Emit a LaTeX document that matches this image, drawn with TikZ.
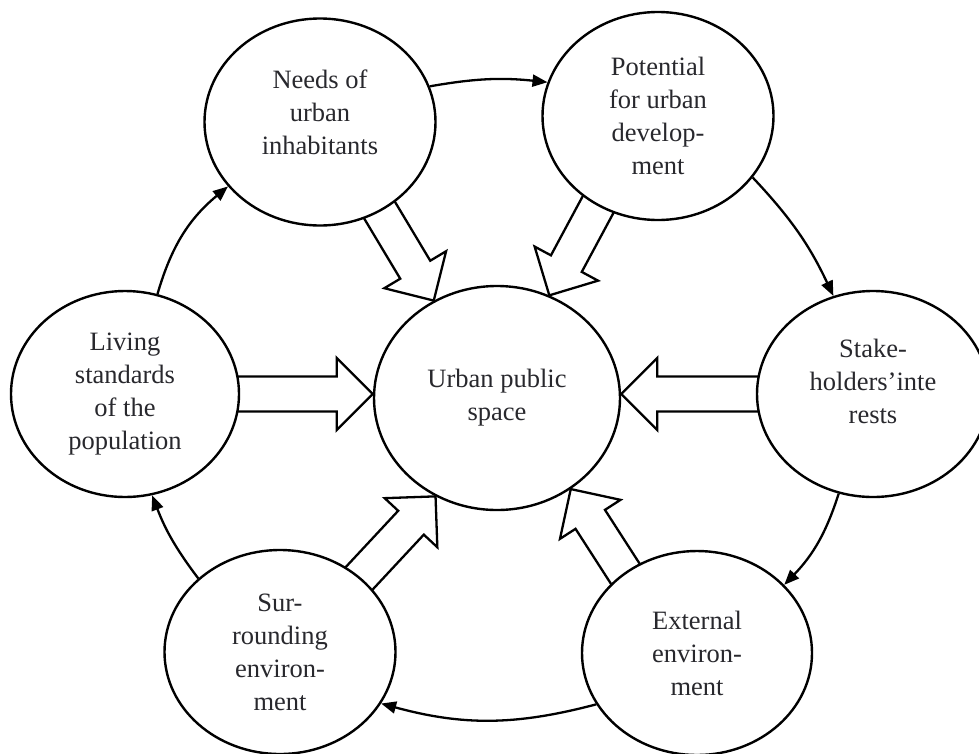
\documentclass[tikz,border=0pt]{standalone}
\usepackage{fontspec}
\setmainfont{Liberation Serif}
\usetikzlibrary{shapes.geometric,arrows.meta,calc,backgrounds}
\definecolor{txt}{RGB}{40,40,45}
\newcommand\blockarr[2]{%
  \path (#1) coordinate (ba-s) (#2) coordinate (ba-t);
  \coordinate (ba-s0) at ($(ba-s)!-25pt!(ba-t)$);
  \coordinate (ba-h) at ($(ba-t)!36pt!(ba-s)$);
  \draw[blk] ($(ba-s0)!17.5pt!90:(ba-t)$) -- ($(ba-h)!17.5pt!-90:(ba-s)$)
    -- ($(ba-h)!36pt!-90:(ba-s)$) -- (ba-t) -- ($(ba-h)!36pt!90:(ba-s)$)
    -- ($(ba-h)!17.5pt!90:(ba-s)$) -- ($(ba-s0)!17.5pt!-90:(ba-t)$) -- cycle;
}
\begin{document}
\begin{tikzpicture}[x=1pt,y=-1pt,
  bub/.style={draw, line width=2.4pt, ellipse, fill=white, inner sep=0pt,
    align=center, text=txt, font=\fontsize{26.5}{33}\selectfont},
  conn/.style={line width=2.3pt, -{Triangle[length=15pt,width=12pt]}},
  blk/.style={draw, line width=2.3pt, fill=white, line join=miter}]
\useasboundingbox (0,0) rectangle (979,753);

\node[bub, minimum width=231pt, minimum height=207pt] (needs) at (320,122)
  {Needs of\\urban\\inhabitants\\[-13pt]\mbox{}};
\node[bub, minimum width=231pt, minimum height=208pt] (potential) at (658,116)
  {Potential\\for urban\\develop-\\ment};
\node[bub, minimum width=232pt, minimum height=206pt] (stake) at (873,394)
  {Stake-\\holders’inte\\rests\\[-7pt]\mbox{}};
\node[bub, minimum width=228pt, minimum height=206pt] (living) at (125,394)
  {Living\\standards\\of the\\population};
\node[bub, minimum width=231pt, minimum height=204pt] (surr) at (280,652)
  {Sur-\\rounding\\environ-\\ment};
\node[bub, minimum width=230pt, minimum height=204pt] (ext) at (697,653)
  {External\\environ-\\ment};
\node[bub, minimum width=246pt, minimum height=224pt] (ups) at (497,398)
  {Urban public\\space};

\begin{pgfonlayer}{background}
  \blockarr{needs.-56}{ups.123}
  \blockarr{potential.236}{ups.63}
  \blockarr{stake.180}{stake.180 -| ups.east}
  \blockarr{living.0}{living.0 -| ups.west}
  \blockarr{surr.43}{ups.238}
  \blockarr{ext.132}{ups.-51}
\end{pgfonlayer}

\draw[conn] (needs.18) to[bend left=8] (potential.163);
\draw[conn] (potential.-33) to[bend left=9] (stake.112);
\draw[conn] (stake.251) to[bend left=13] (ext.38);
\draw[conn] (ext.207) to[bend left=15] (surr.-27);
\draw[conn] (surr.138) to[bend left=8] (living.-75);
\draw[conn] (living.72) to[bend left=17] (needs.215);
\end{tikzpicture}
\end{document}
